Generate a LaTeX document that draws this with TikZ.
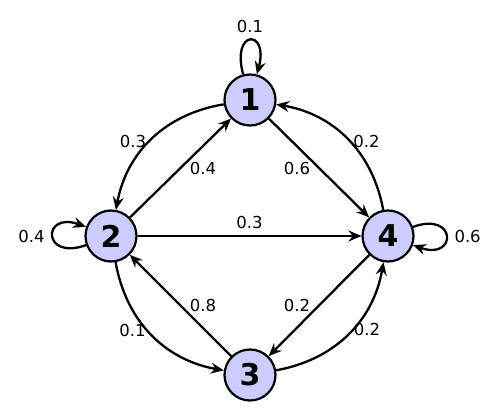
\documentclass[tikz,border=0pt]{standalone}
\usepackage{fontspec}
\setmainfont{DejaVu Sans}
\usetikzlibrary{arrows.meta}
\definecolor{nodefill}{RGB}{204,204,255}
\begin{document}
\begin{tikzpicture}[x=1pt,y=1pt,
  state/.style={circle,draw,line width=2.2pt,fill=nodefill,minimum size=51pt,inner sep=0pt,font=\fontsize{30}{30}\selectfont\bfseries},
  trans/.style={-{Stealth[length=13pt,width=11pt,inset=4.5pt]},line width=2.3pt},
  selfloop/.style={trans,looseness=1,min distance=47pt},
  lbl/.style={font=\fontsize{16.5}{16.5}\selectfont,inner sep=0pt,anchor=center}]
\useasboundingbox (0,0) rectangle (500,412);
\node[state] (n1) at (250,312) {1};
\node[state] (n2) at (111,176) {2};
\node[state] (n3) at (250,37) {3};
\node[state] (n4) at (388,176) {4};
\draw[selfloop] (n1) to[out=105,in=75] node[lbl,midway,yshift=14pt] {0.1} (n1);
\draw[selfloop] (n2) to[out=200,in=160] node[lbl,midway,xshift=-21.5pt] {0.4} (n2);
\draw[selfloop] (n4) to[out=20,in=-20] node[lbl,midway,xshift=21.5pt] {0.6} (n4);
\draw[trans] (n1) to[bend right=35] node[lbl,midway,xshift=-19pt,yshift=-2.5pt] {0.3} (n2);
\draw[trans] (n4) to[bend right=35] node[lbl,midway,xshift=19pt,yshift=-2.5pt] {0.2} (n1);
\draw[trans] (n2) to[bend right=35] node[lbl,midway,xshift=-19pt,yshift=4.5pt] {0.1} (n3);
\draw[trans] (n3) to[bend right=35] node[lbl,midway,xshift=19pt,yshift=4.5pt] {0.2} (n4);
\draw[trans] (n2) to node[lbl,midway,xshift=22.5pt] {0.4} (n1);
\draw[trans] (n1) to node[lbl,midway,xshift=-22pt] {0.6} (n4);
\draw[trans] (n2) to node[lbl,midway,yshift=14pt] {0.3} (n4);
\draw[trans] (n3) to node[lbl,midway,xshift=22.5pt] {0.8} (n2);
\draw[trans] (n4) to node[lbl,midway,xshift=-22pt] {0.2} (n3);
\end{tikzpicture}
\end{document}
